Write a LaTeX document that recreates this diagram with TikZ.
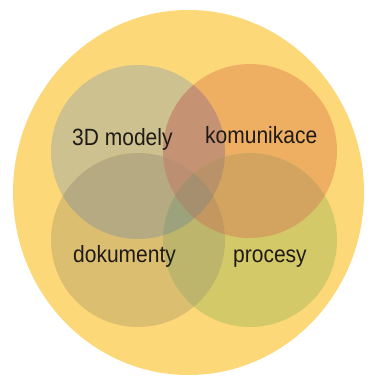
\documentclass[tikz,border=0pt]{standalone}
\usepackage{fontspec}
\setmainfont{Liberation Sans}
\usepackage{graphicx}
% region colours of the four-set diagram
\definecolor{bgY}{HTML}{FDD878}
\definecolor{cA}{HTML}{CDC18F}   % 3D modely
\definecolor{cB}{HTML}{EFAF63}   % komunikace
\definecolor{cC}{HTML}{DCBE70}   % dokumenty
\definecolor{cD}{HTML}{D4C968}   % procesy
\definecolor{cAB}{HTML}{C69274}
\definecolor{cAC}{HTML}{B6AA82}
\definecolor{cBD}{HTML}{D3A45F}
\definecolor{cCD}{HTML}{BDB56C}
\definecolor{cABC}{HTML}{BC8E72}
\definecolor{cABD}{HTML}{B99269}
\definecolor{cACD}{HTML}{9CA37C}
\definecolor{cBCD}{HTML}{C3975F}
\definecolor{cABCD}{HTML}{A58F6E}
\definecolor{txt}{HTML}{1E1A16}
\def\cirA{(138,152) circle (87pt)}
\def\cirB{(250,151) circle (87pt)}
\def\cirC{(138,240) circle (87pt)}
\def\cirD{(250,240) circle (87pt)}
\tikzset{lbl/.style={anchor=base west, inner sep=0pt, text=txt,
  font=\fontsize{21}{25}\selectfont}}
\begin{document}
\begin{tikzpicture}[x=1pt,y=-1pt]
\useasboundingbox (0,0) rectangle (368,380);
\fill[white] (0,0) rectangle (368,380);
\fill[bgY] (188.5,192.5) ellipse [x radius=175.5pt, y radius=182.5pt];
% single sets
\fill[cA] \cirA; \fill[cB] \cirB; \fill[cC] \cirC; \fill[cD] \cirD;
% pairwise overlaps
\begin{scope}\clip \cirA; \fill[cAB] \cirB; \end{scope}
\begin{scope}\clip \cirA; \fill[cAC] \cirC; \end{scope}
\begin{scope}\clip \cirB; \fill[cBD] \cirD; \end{scope}
\begin{scope}\clip \cirC; \fill[cCD] \cirD; \end{scope}
% triple overlaps
\begin{scope}\clip \cirA; \clip \cirB; \fill[cABC] \cirC; \end{scope}
\begin{scope}\clip \cirA; \clip \cirB; \fill[cABD] \cirD; \end{scope}
\begin{scope}\clip \cirA; \clip \cirC; \fill[cACD] \cirD; \end{scope}
\begin{scope}\clip \cirB; \clip \cirC; \fill[cBCD] \cirD; \end{scope}
% all four
\begin{scope}\clip \cirA; \clip \cirB; \clip \cirC; \fill[cABCD] \cirD; \end{scope}
% labels
\node[lbl] (m3d) at (72,145) {\scalebox{1}[1.12]{3D modely}};
\node[lbl] (kom) at (205,143) {\scalebox{1}[1.12]{komunikace}};
\node[lbl] (dok) at (73,262) {\scalebox{1}[1.12]{dokumenty}};
\node[lbl] (pro) at (233,262) {\scalebox{1}[1.12]{procesy}};
\end{tikzpicture}
\end{document}
